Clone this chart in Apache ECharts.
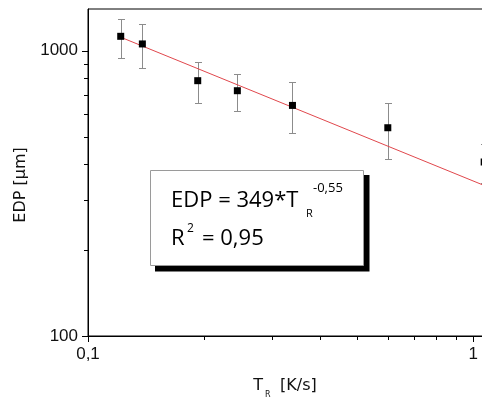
<!DOCTYPE html>
<html>
<head>
<meta charset="utf-8">
<script src="https://cdn.jsdelivr.net/npm/echarts@6/dist/echarts.min.js"></script>
<style>
html,body{margin:0;padding:0;background:#fff;}
#chart{width:482px;height:398px;}
</style>
</head>
<body>
<div id="chart"></div>
<script>
// ---- data ----
const rateTR = [0.1216, 0.1384, 0.1927, 0.2442, 0.3395, 0.6003, 1.068];
const edpMean = [1123, 1056, 785, 724, 643, 537, 407];
const edpLow  = [943, 870, 657, 616, 516, 417, 343];
const edpHigh = [1295, 1241, 910, 831, 776, 657, 471];
// fitted power law line (EDP = 349*T^-0.55), end points
const fitX = [0.1216, 1.16];
const fitY = [1115, 322];
// axis ticks and labels
const xMajorTicks = [0.1, 1];
const xTickLabels = ['0,1', '1'];
const xMinorTicks = [0.2, 0.3, 0.4, 0.5, 0.6, 0.7, 0.8, 0.9];
const yMajorTicks = [100, 1000];
const yTickLabels = ['100', '1000'];
const yMinorTicks = [200, 300, 400, 500, 600, 700, 800, 900];
const X_MIN = 0.1, X_MAX = 1.16, Y_MIN = 100, Y_MAX = 1400;

const chart = echarts.init(document.getElementById('chart'), null, {renderer: 'canvas'});

function labelFor(values, labels, v) {
  for (let i = 0; i < values.length; i++) {
    if (Math.abs(values[i] - v) / values[i] < 1e-6) return labels[i];
  }
  return '';
}

const errData = rateTR.map((x, i) => [x, edpLow[i], edpHigh[i]]);
const tickData = []
  .concat(yMajorTicks.map(v => [X_MIN, v, 0, 1]))
  .concat(yMinorTicks.map(v => [X_MIN, v, 0, 0]))
  .concat(xMajorTicks.map(v => [v, Y_MIN, 1, 1]))
  .concat(xMinorTicks.map(v => [v, Y_MIN, 1, 0]));

const crisp = v => Math.round(v) + 0.5;

const option = {
  animation: false,
  backgroundColor: '#fff',
  grid: {
    left: 88, top: 9, width: 410, height: 327,
    containLabel: false, outerBoundsMode: 'none',
    show: true, borderColor: '#000', borderWidth: 1, backgroundColor: 'transparent'
  },
  xAxis: {
    type: 'log', logBase: 10, min: X_MIN, max: X_MAX,
    axisLine: {show: true, lineStyle: {color: '#000', width: 1}},
    axisTick: {show: false},
    splitLine: {show: false},
    axisLabel: {
      margin: 10, color: '#111', fontFamily: 'Liberation Sans', fontSize: 17,
      formatter: v => labelFor(xMajorTicks, xTickLabels, v)
    }
  },
  yAxis: {
    type: 'log', logBase: 10, min: Y_MIN, max: Y_MAX,
    axisLine: {show: true, lineStyle: {color: '#000', width: 1}},
    axisTick: {show: false},
    splitLine: {show: false},
    axisLabel: {
      margin: 10, color: '#111', fontFamily: 'Liberation Sans', fontSize: 17,
      formatter: v => labelFor(yMajorTicks, yTickLabels, v)
    }
  },
  series: [
    {
      type: 'custom', name: 'ticks', z: 1, silent: true, clip: false,
      data: tickData,
      encode: {x: 0, y: 1},
      renderItem: function (params, api) {
        const p = api.coord([api.value(0), api.value(1)]);
        const isX = api.value(2) === 1;
        const len = api.value(3) === 1 ? 6 : 4;
        const style = {stroke: '#000', lineWidth: 1};
        if (isX) {
          const x = crisp(p[0]);
          return {type: 'line', shape: {x1: x, y1: p[1], x2: x, y2: p[1] + len}, style};
        } else {
          const y = crisp(p[1]);
          return {type: 'line', shape: {x1: p[0] - len, y1: y, x2: p[0], y2: y}, style};
        }
      }
    },
    {
      type: 'custom', name: 'error', z: 2, silent: true, clip: false,
      data: errData,
      encode: {x: 0, y: [1, 2]},
      renderItem: function (params, api) {
        const lo = api.coord([api.value(0), api.value(1)]);
        const hi = api.coord([api.value(0), api.value(2)]);
        const x = crisp(lo[0]);
        const yl = crisp(lo[1]), yh = crisp(hi[1]);
        const style = {stroke: '#8c8c8c', lineWidth: 1};
        const cw = 3.5;
        return {
          type: 'group',
          children: [
            {type: 'line', shape: {x1: x, y1: yh, x2: x, y2: yl}, style},
            {type: 'line', shape: {x1: x - cw, y1: yh, x2: x + cw, y2: yh}, style},
            {type: 'line', shape: {x1: x - cw, y1: yl, x2: x + cw, y2: yl}, style}
          ]
        };
      }
    },
    {
      type: 'line', name: 'fit', z: 3, silent: true,
      data: fitX.map((x, i) => [x, fitY[i]]),
      showSymbol: false, symbol: 'none',
      lineStyle: {color: '#e0474c', width: 1}
    },
    {
      type: 'scatter', name: 'EDP', z: 4, silent: true, clip: false,
      data: rateTR.map((x, i) => [x, edpMean[i]]),
      symbol: 'rect', symbolSize: 7,
      itemStyle: {color: '#000', opacity: 1}
    }
  ],
  graphic: [
    {type: 'rect', z: 10, shape: {x: 155, y: 175, width: 214.5, height: 96.5}, style: {fill: '#000'}},
    {type: 'rect', z: 11, shape: {x: 150.5, y: 170.5, width: 213, height: 95}, style: {fill: '#fff', stroke: '#9a9a9a', lineWidth: 1}},
    {type: 'text', z: 12, style: {x: 171, y: 200.8, text: 'EDP = 349*T', font: '22px "Open Sans"', fill: '#000', textAlign: 'left', textVerticalAlign: 'middle'}},
    {type: 'text', z: 12, style: {x: 306, y: 213.4, text: 'R', font: '11px "Open Sans"', fill: '#000', textAlign: 'left', textVerticalAlign: 'middle'}},
    {type: 'text', z: 12, style: {x: 313, y: 188.5, text: '-0,55', font: '13px "Open Sans"', fill: '#000', textAlign: 'left', textVerticalAlign: 'middle'}},
    {type: 'text', z: 12, style: {x: 171, y: 238.8, text: 'R', font: '22px "Open Sans"', fill: '#000', textAlign: 'left', textVerticalAlign: 'middle'}},
    {type: 'text', z: 12, style: {x: 187, y: 228.5, text: '2', font: '12px "Open Sans"', fill: '#000', textAlign: 'left', textVerticalAlign: 'middle'}},
    {type: 'text', z: 12, style: {x: 202, y: 238.8, text: '= 0,95', font: '22px "Open Sans"', fill: '#000', textAlign: 'left', textVerticalAlign: 'middle'}},
    // axis titles
    {type: 'text', z: 12, x: 21.2, y: 185, rotation: Math.PI / 2, style: {x: 0, y: 0, text: 'EDP [µm]', font: '16px "DejaVu Sans"', fill: '#111', textAlign: 'center', textVerticalAlign: 'middle'}},
    {type: 'text', z: 12, style: {x: 253.3, y: 386.2, text: 'T', font: '16px "DejaVu Sans"', fill: '#111', textAlign: 'left', textVerticalAlign: 'middle'}},
    {type: 'text', z: 12, style: {x: 265, y: 394.5, text: 'R', font: '8px "DejaVu Sans"', fill: '#111', textAlign: 'left', textVerticalAlign: 'middle'}},
    {type: 'text', z: 12, style: {x: 280, y: 386.2, text: '[K/s]', font: '16px "DejaVu Sans"', fill: '#111', textAlign: 'left', textVerticalAlign: 'middle'}}
  ]
};
chart.setOption(option);
</script>
</body>
</html>
